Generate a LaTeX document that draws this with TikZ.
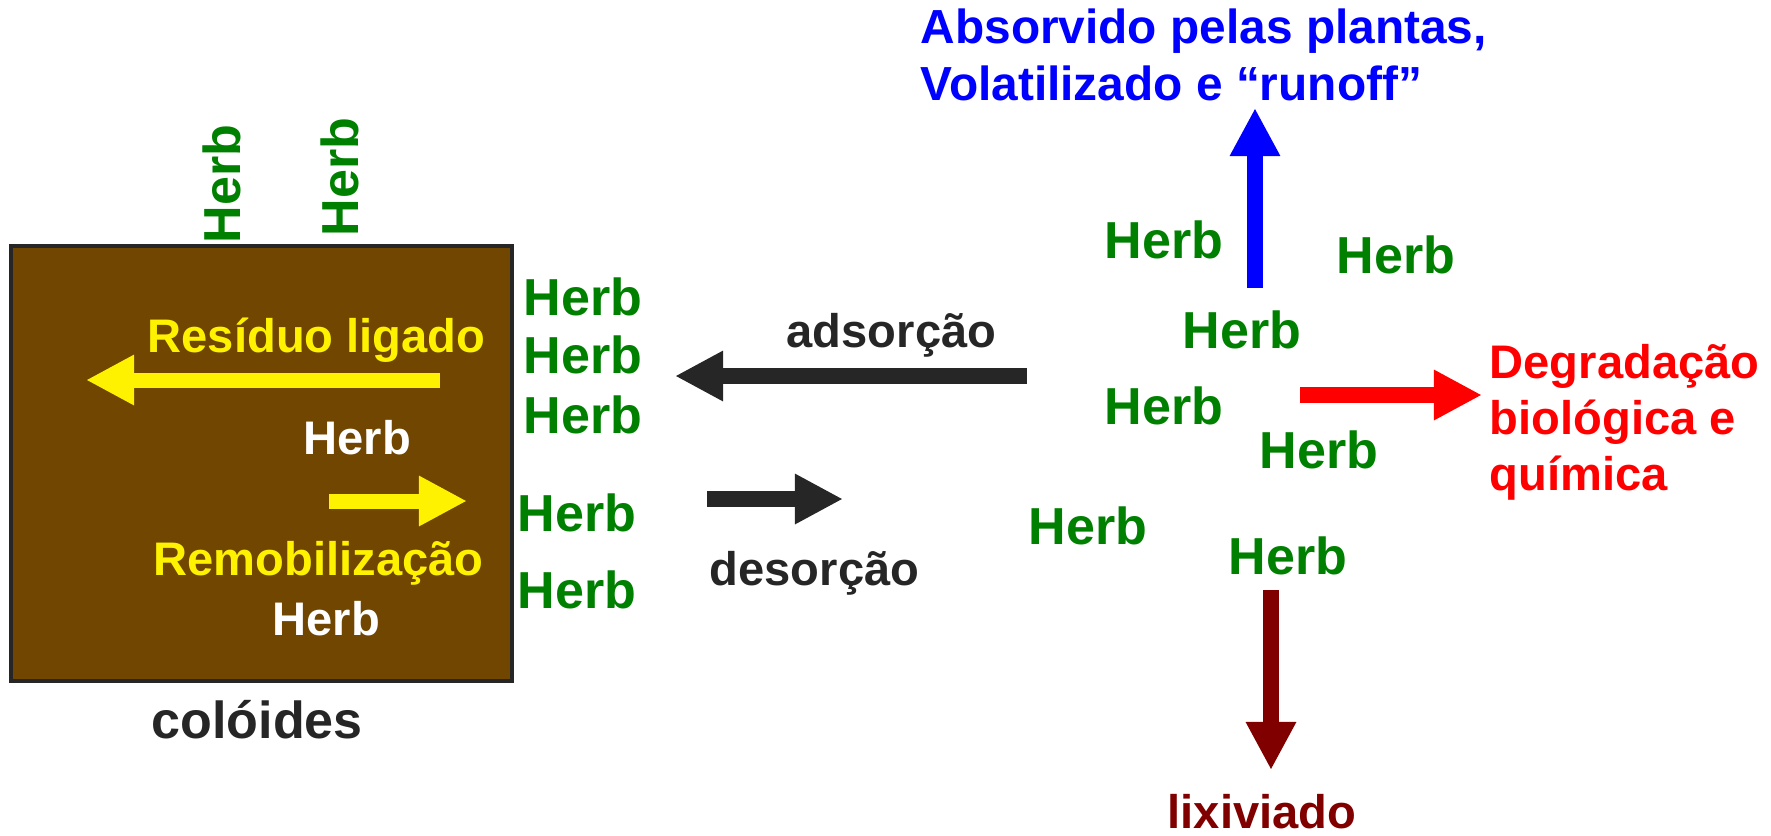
\documentclass[tikz,border=0pt]{standalone}
\usepackage{fontspec}
\setmainfont{Liberation Sans}
\usetikzlibrary{arrows.meta}
\definecolor{herbgreen}{RGB}{0,128,0}
\definecolor{soilbrown}{RGB}{112,70,0}
\definecolor{darktext}{RGB}{38,38,38}
\definecolor{leachred}{RGB}{128,0,0}

\begin{document}
\begin{tikzpicture}[%
    x=0.01cm, y=-0.01cm,
    every node/.style = {inner sep=0pt, anchor=base west, font=\bfseries\fontsize{13.4}{15.9}\selectfont},
    herb/.style = {text=herbgreen, font=\bfseries\fontsize{14.8}{18}\selectfont},
    blockarrow/.style = {line width=0.16cm, -{Triangle[length=0.48cm, width=0.47cm]}}
]
\useasboundingbox (0,0) rectangle (1771,835);

\draw[fill=soilbrown, draw=darktext, line width=0.045cm] (11,246) rectangle (512,681);

\node[herb, rotate=90] (top1) at (240,244) {Herb};
\node[herb, rotate=90] (top2) at (358,237) {Herb};
\foreach \x/\y [count=\i] in {523/315, 523/373, 523/433, 517/531, 517/608,
        1104/258, 1336/273, 1182/348, 1104/424, 1259/468, 1028/544, 1228/574} {
    \node[herb] (herb\i) at (\x,\y) {Herb};
}

\node[text=yellow] (residuo) at (147,352) {Resíduo ligado};
\node[text=yellow] (remob) at (153,575) {Remobilização};
\node[text=white] (free1) at (303,454) {Herb};
\node[text=white] (free2) at (272,635) {Herb};
\node[text=darktext, font=\bfseries\fontsize{14.8}{18}\selectfont] (coloides) at (151,738) {colóides};
\node[text=darktext] (ads) at (786,347) {adsorção};
\node[text=darktext] (des) at (709,585) {desorção};
% base of a multi-line node sits on its last line
\node[text=blue, align=left, font=\bfseries\fontsize{13.6}{16.2}\selectfont] (absorv) at (920,100)
    {Absorvido pelas plantas,\\Volatilizado e “runoff”};
\node[text=red, align=left] (degrad) at (1489,490) {Degradação\\biológica e\\química};
\node[text=leachred] (lixiv) at (1167,828) {lixiviado};

\coordinate (resA) at (440,380);  \coordinate (resB) at (86,380);
\coordinate (remA) at (329,501);  \coordinate (remB) at (467,501);
\coordinate (adsA) at (1027,376); \coordinate (adsB) at (675,376);
\coordinate (desA) at (707,499);  \coordinate (desB) at (843,499);
\coordinate (upA) at (1255,288);  \coordinate (upB) at (1255,108);
\coordinate (degA) at (1300,395); \coordinate (degB) at (1482,395);
\coordinate (lixA) at (1271,590); \coordinate (lixB) at (1271,770);

\draw[blockarrow, yellow, line width=0.15cm] (resA) -- (resB);
\draw[blockarrow, yellow, line width=0.15cm] (remA) -- (remB);
\draw[blockarrow, darktext] (adsA) -- (adsB);
\draw[blockarrow, darktext] (desA) -- (desB);
\draw[blockarrow, blue] (upA) -- (upB);
\draw[blockarrow, red] (degA) -- (degB);
\draw[blockarrow, leachred] (lixA) -- (lixB);
\end{tikzpicture}
\end{document}
